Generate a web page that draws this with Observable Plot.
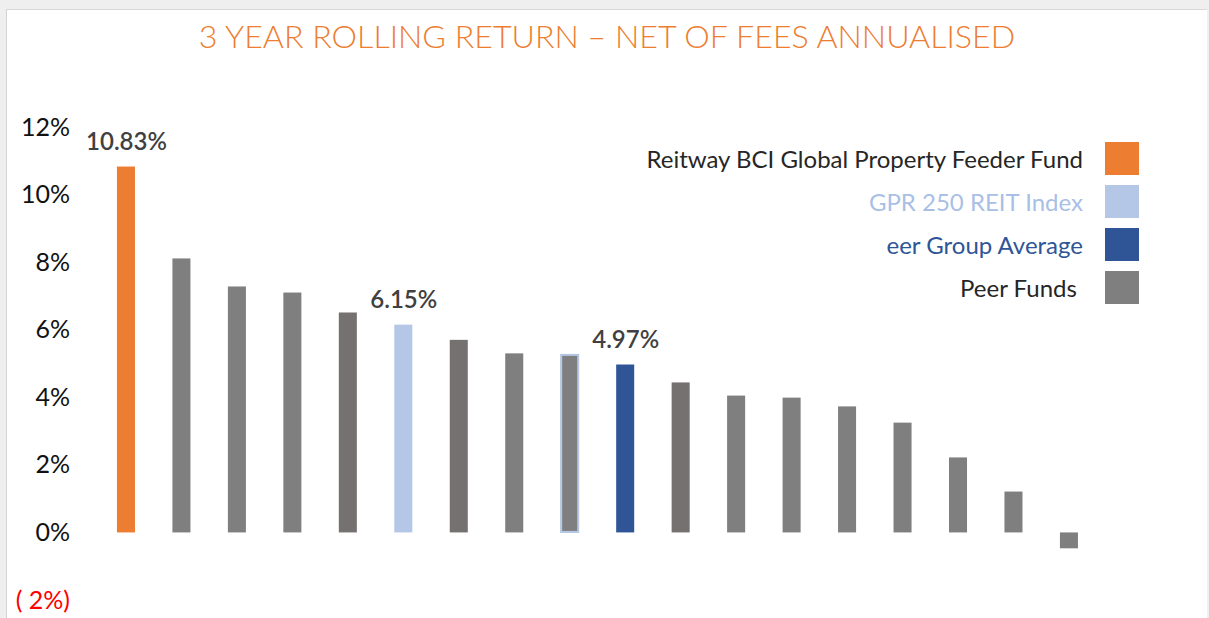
<!DOCTYPE html>
<html><head><meta charset="utf-8">
<script src="https://cdn.jsdelivr.net/npm/d3@7"></script>
<script src="https://cdn.jsdelivr.net/npm/@observablehq/plot@0.6"></script>
<style>
html,body{margin:0;padding:0;background:#efefef;}
#page{position:relative;width:1209px;height:618px;overflow:hidden;}
#panel{position:absolute;left:6px;top:9px;width:1201px;height:609px;background:#fff;border-left:1px solid #d4d4d4;border-top:1px solid #d8d8d8;box-sizing:border-box;}
#title{position:absolute;left:7px;width:1200px;top:16px;text-align:center;font-family:Lato,sans-serif;font-weight:300;font-size:32.2px;color:#ED7D31;white-space:nowrap;}
#chart{position:absolute;left:0;top:70px;}
#legend{position:absolute;right:70px;top:137px;font-family:Lato,sans-serif;font-size:24px;}
.row{display:flex;align-items:center;justify-content:flex-end;height:43px;}
.row .sw{width:34px;height:33px;margin-left:22px;}
</style>
</head><body>
<div id="page">
  <div id="panel"></div>
  <div id="title"></div>
  <div id="chart"></div>
  <div id="legend"></div>
</div>
<script>
// ---- data ----
const titleText = "3 YEAR ROLLING RETURN \u2013 NET OF FEES ANNUALISED";
const funds = ["Reitway BCI Global Property Feeder Fund","Peer 1","Peer 2","Peer 3","Peer 4","GPR 250 REIT Index","Peer 5","Peer 6","Peer 7","Peer Group Average","Peer 8","Peer 9","Peer 10","Peer 11","Peer 12","Peer 13","Peer 14","Peer 15"];
const returns = [10.83, 8.11, 7.28, 7.10, 6.51, 6.15, 5.70, 5.30, 5.27, 4.97, 4.44, 4.05, 3.99, 3.73, 3.25, 2.22, 1.21, -0.47];
const groups = ["fund","peer","peer","peer","peerDark","index","peerDark","peer","peerOutlined","average","peerDark","peer","peer","peer","peer","peer","peer","peer"];
const groupNames = ["fund","index","average","peer","peerDark","peerOutlined"];
const groupColors = ["#ED7D31","#B4C7E7","#2F5597","#7F7F7F","#767171","#7F7F7F"];
const labelledGroups = ["fund","index","average"];
const yTicks = [0,2,4,6,8,10,12];
const yNegTicks = [-2];
const legendLabels = ["Reitway BCI Global Property Feeder Fund","GPR 250 REIT Index","eer Group Average","Peer Funds\u00a0"];
const legendColors = ["#ED7D31","#B4C7E7","#2F5597","#7F7F7F"];
const legendTextColors = ["#262626","#A9BFE6","#2F5597","#262626"];

const data = funds.map((f,i)=>({fund:f, value:returns[i], group:groups[i]}));

document.getElementById("title").textContent = titleText;

const chart = Plot.plot({
  width: 1209, height: 548,
  marginLeft: 79.5, marginRight: 93.6, marginTop: 57, marginBottom: 18,
  style: {fontFamily: "Lato, sans-serif", background: "transparent"},
  x: {domain: funds, padding: 0.675, round: false, axis: null},
  y: {domain: [-2, 12], axis: null},
  color: {domain: groupNames, range: groupColors},
  marks: [
    Plot.barY(data, {x: "fund", y: "value", fill: "group"}),
    Plot.barY(data.filter(d => d.group === "peerOutlined"), {x: "fund", y: "value", fill: "none", stroke: "#B4C7E7", strokeWidth: 2, inset: 0.5}),
    Plot.axisY({ticks: yTicks, tickSize: 0, tickPadding: 10, tickFormat: d => d + "%", fontSize: 25, fill: "#111", label: null}),
    Plot.axisY({ticks: yNegTicks, tickSize: 0, tickPadding: 10, tickFormat: d => "( " + (-d) + "%)", fontSize: 25, fill: "#FF0000", label: null}),
    Plot.text(data.filter(d => labelledGroups.includes(d.group)), {x: "fund", y: "value", text: d => d.value.toFixed(2) + "%", lineAnchor: "bottom", dy: -17, fontSize: 24, fontWeight: 600, fill: "#404040"})
  ]
});
document.getElementById("chart").appendChild(chart);

const legend = document.getElementById("legend");
legendLabels.forEach((l,i)=>{
  const row = document.createElement("div"); row.className="row";
  const t = document.createElement("span"); t.textContent = l; t.style.color = legendTextColors[i];
  const s = document.createElement("div"); s.className="sw"; s.style.background = legendColors[i];
  row.appendChild(t); row.appendChild(s); legend.appendChild(row);
});
</script>
</body></html>
